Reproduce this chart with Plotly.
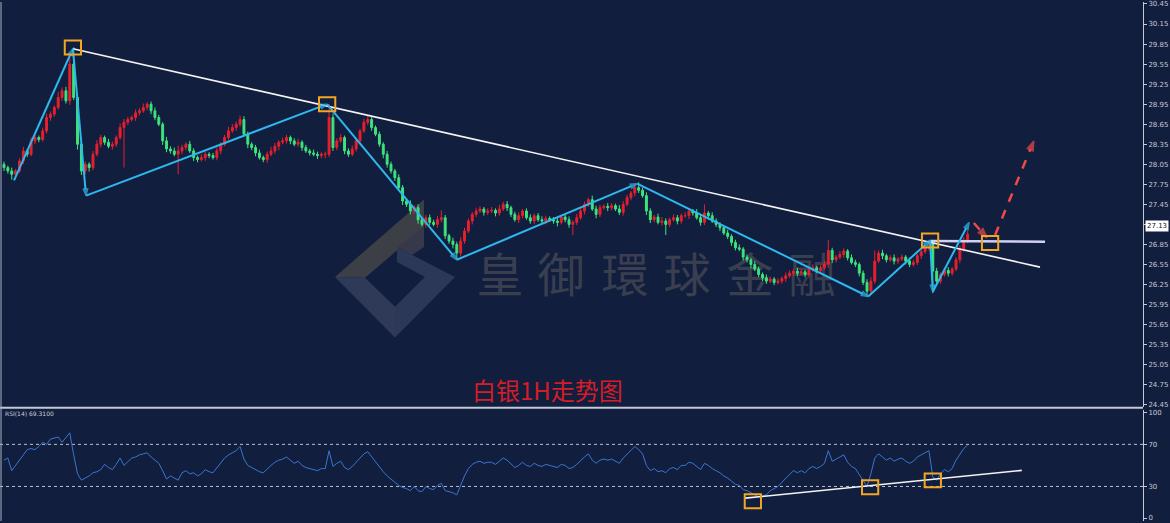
import base64
import plotly.graph_objects as go

# ---------------- data ----------------
first_open = 28.05
closes = [
    28.00, 27.95, 27.90, 27.95, 28.10, 28.25, 28.20, 28.40, 28.45, 28.42, 28.55, 28.75, 28.80, 28.90, 29.05, 29.15, 29.00, 29.55, 29.05, 28.35, 27.95, 28.05,
    28.00, 28.20, 28.35, 28.45, 28.38, 28.32, 28.35, 28.45, 28.60, 28.68, 28.72, 28.75, 28.82, 28.85, 28.90, 28.95, 28.85, 28.75, 28.65, 28.40, 28.28, 28.25,
    28.20, 28.25, 28.30, 28.35, 28.25, 28.15, 28.12, 28.15, 28.20, 28.18, 28.15, 28.25, 28.35, 28.45, 28.55, 28.60, 28.65, 28.72, 28.50, 28.35, 28.30,
    28.22, 28.15, 28.12, 28.20, 28.25, 28.32, 28.38, 28.40, 28.45, 28.40, 28.35, 28.38, 28.30, 28.25, 28.22, 28.20, 28.18, 28.20, 28.20, 28.75,
    28.30, 28.40, 28.45, 28.25, 28.20, 28.28, 28.40, 28.55, 28.68, 28.72, 28.60, 28.50, 28.35, 28.20, 28.05, 27.95, 27.85, 27.70,
    27.50, 27.45, 27.35, 27.40, 27.22, 27.15, 27.25, 27.18, 27.15, 27.22, 27.25, 26.98, 26.90, 26.85, 26.72, 26.90, 27.05, 27.20, 27.30, 27.35,
    27.38, 27.33, 27.35, 27.36, 27.32, 27.38, 27.45, 27.40, 27.30, 27.22, 27.28, 27.35,
    27.25, 27.20, 27.28, 27.22, 27.20, 27.24, 27.22, 27.20, 27.18, 27.26, 27.22, 27.15, 27.18, 27.25, 27.35, 27.45, 27.52, 27.38, 27.30, 27.40,
    27.42, 27.40, 27.43, 27.38, 27.33, 27.45, 27.55, 27.62, 27.70, 27.66, 27.58, 27.35, 27.22, 27.26, 27.18, 27.20, 27.15, 27.22, 27.25, 27.20, 27.28,
    27.28, 27.35, 27.32, 27.25, 27.18, 27.32, 27.28, 27.20, 27.15, 27.10, 27.02, 26.97, 26.88, 26.80, 26.78, 26.66, 26.62, 26.55, 26.48, 26.40,
    26.35, 26.30, 26.33, 26.28, 26.30, 26.34, 26.38, 26.42, 26.45, 26.42, 26.44, 26.40, 26.47, 26.50, 26.46, 26.50, 26.56, 26.76, 26.62, 26.66,
    26.70, 26.75, 26.65, 26.58, 26.55, 26.42, 26.28, 26.15, 26.30,
    26.60, 26.72, 26.68, 26.62, 26.65, 26.60, 26.63, 26.66, 26.60, 26.55, 26.58, 26.68, 26.74, 26.80, 26.86, 26.45, 26.30, 26.40, 26.46, 26.42,
    26.48, 26.62, 26.78, 26.90, 27.00,
]
upper_wick_cents = [
    4, 3, 5, 3, 4, 6, 3, 5, 4, 3, 5, 6, 4, 3, 8, 5, 6, 10, 25, 6, 5, 4, 3, 5, 6,
    4, 3, 5, 4, 3, 6, 5, 4, 3, 5, 4, 6, 3, 4, 5, 4, 3, 6, 4, 5, 8, 4, 3, 5, 4,
    3, 5, 4, 3, 4, 5, 3, 4, 6, 5, 4, 6, 5, 4, 3, 4, 5, 3, 4, 6, 5, 3, 5, 4, 3,
    4, 5, 3, 4, 3, 5, 4, 3, 4, 20, 6, 4, 5, 3, 4, 5, 4, 3, 5, 6, 4, 3, 4, 3, 5,
    4, 3, 5, 4, 3, 6, 4, 5, 3, 4, 5, 4, 6, 11, 4, 3, 5, 4, 6, 5, 4, 3, 5, 4, 3,
    4, 5, 3, 6, 4, 5, 3, 4, 5, 3, 4, 5, 3, 4, 5, 4, 3, 4, 5, 3, 4, 5, 3, 6, 5,
    4, 3, 6, 5, 4, 3, 5, 4, 3, 6, 5, 4, 3, 6, 8, 4, 5, 4, 3, 5, 6, 4, 3, 5, 4,
    3, 5, 4, 3, 6, 4, 13, 3, 5, 4, 3, 4, 5, 3, 4, 5, 3, 4, 3, 5, 4, 3, 5, 4, 3,
    4, 3, 5, 4, 3, 5, 4, 3, 4, 5, 3, 4, 5, 16, 4, 3, 5, 4, 3, 5, 4, 3, 4, 5, 6,
    16, 4, 5, 3, 4, 5, 3, 4, 3, 5, 4, 3, 5, 4, 6, 4, 5, 3, 4, 5, 3, 4, 5, 6, 6,
]
lower_wick_cents = [
    5, 4, 8, 4, 3, 5, 4, 3, 5, 4, 3, 4, 5, 4, 3, 5, 4, 6, 4, 8, 6, 5, 6, 4, 3,
    5, 4, 3, 5, 4, 3, 60, 4, 3, 5, 4, 3, 4, 5, 4, 3, 6, 5, 4, 3, 30, 5, 4, 3, 5,
    4, 3, 5, 4, 3, 4, 5, 3, 4, 3, 5, 4, 3, 6, 4, 5, 3, 4, 5, 3, 4, 6, 3, 4, 5,
    3, 4, 5, 3, 4, 3, 5, 4, 6, 4, 5, 4, 3, 5, 4, 3, 4, 5, 3, 4, 5, 3, 4, 6, 5,
    4, 5, 3, 6, 4, 5, 4, 6, 3, 5, 4, 3, 5, 4, 5, 4, 6, 10, 5, 4, 3, 5, 4, 3, 5,
    4, 3, 5, 4, 3, 5, 4, 3, 5, 4, 3, 4, 5, 3, 4, 5, 3, 4, 6, 3, 4, 5, 16, 4, 3,
    5, 4, 3, 6, 4, 3, 5, 4, 3, 4, 5, 3, 4, 5, 4, 3, 6, 5, 4, 3, 5, 16, 4, 3, 5,
    4, 3, 5, 4, 3, 5, 4, 6, 3, 4, 5, 3, 4, 5, 4, 3, 5, 4, 6, 3, 4, 5, 4, 3, 4,
    3, 4, 5, 3, 4, 5, 3, 4, 5, 3, 4, 5, 3, 6, 5, 4, 3, 5, 4, 3, 4, 5, 4, 8, 5,
    4, 3, 5, 4, 3, 5, 4, 3, 5, 4, 3, 4, 5, 3, 4, 33, 5, 4, 3, 5, 4, 3, 5, 4, 3,
]
rsi_values = [
    55, 57, 45, 50, 55, 60, 65, 66, 65, 68, 72, 70, 75, 76, 77, 72, 76, 81, 60, 42, 36, 38, 40, 43, 44,
    46, 51, 48, 46, 51, 57, 50, 54, 57, 58, 60, 61, 62, 58, 55, 52, 45, 37, 40, 38, 36, 43, 45, 42, 43,
    40, 42, 46, 44, 43, 48, 53, 57, 60, 62, 64, 68, 56, 50, 48, 46, 44, 43, 47, 50, 53, 55, 56, 58, 55,
    52, 54, 50, 48, 47, 46, 45, 47, 47, 64, 49, 52, 54, 48, 46, 49, 53, 57, 61, 63, 58, 54, 49, 44, 40,
    37, 34, 31, 29, 28, 26, 30, 26, 25, 30, 28, 27, 31, 33, 26, 25, 24, 22, 32, 40, 47, 51, 53, 54, 52,
    53, 53, 51, 54, 57, 55, 51, 48, 50, 53, 50, 49, 52, 50, 49, 51, 50, 49, 48, 51, 50, 47, 48, 51, 55,
    58, 61, 55, 52, 55, 56, 55, 56, 54, 52, 57, 61, 64, 68, 65, 61, 50, 45, 47, 44, 45, 43, 47, 48, 46,
    50, 50, 53, 52, 49, 46, 52, 50, 47, 45, 43, 40, 38, 35, 32, 31, 27, 26, 24, 22, 20, 21, 22, 26, 28,
    30, 34, 38, 42, 45, 43, 45, 43, 47, 49, 47, 49, 52, 64, 54, 56, 58, 60, 53, 49, 47, 41, 35, 30, 42,
    57, 61, 58, 55, 57, 54, 56, 57, 54, 52, 54, 58, 60, 62, 64, 39, 36, 42, 46, 44, 47, 55, 61, 66, 69.31,
]
last_price = 27.13
rsi_label = "RSI(14) 69.3100"
chart_title = "白银1H走势图"
watermark_text = "皇御環球金融"

price_ticks = [24.45, 24.75, 25.05, 25.35, 25.65, 25.95, 26.25, 26.55, 26.85, 27.15, 27.45,
               27.75, 28.05, 28.35, 28.65, 28.95, 29.25, 29.55, 29.85, 30.15, 30.45]
rsi_ticks = [0, 30, 70, 100]
rsi_levels = [30, 70]

# analysis drawings (bar index, price)
zigzag_idx = [2.6, 17.8, 21.2, 83.5, 117.0, 163.6, 223.3, 239.3, 240.0, 249.4]
zigzag_px = [27.81, 29.78, 27.58, 28.95, 26.62, 27.76, 26.07, 26.91, 26.14, 27.18]
trend_idx = [17.8, 267.7]
trend_px = [29.78, 26.51]
hline_idx = [239.3, 269.0]
hline_px = [26.90, 26.89]
box_idx = [17.8, 83.5, 239.3, 254.8]
box_px = [29.80, 28.95, 26.91, 26.87]
arrow1_idx = [250.6, 254.0]
arrow1_px = [27.17, 26.95]
arrow2_idx = [256.1, 266.1]
arrow2_px = [26.99, 28.40]
rsi_trend_idx = [191.5, 263.0]
rsi_trend_val = [18.9, 45.3]
rsi_box_idx = [193.5, 223.8, 240.0]
rsi_box_val = [16.0, 29.2, 35.8]

assert len(closes) == len(upper_wick_cents) == len(lower_wick_cents) == len(rsi_values), (
    len(closes), len(upper_wick_cents), len(lower_wick_cents), len(rsi_values))

# ---------------- derived ----------------
n = len(closes)
bars = list(range(n))
opens = [first_open] + closes[:-1]
highs = [max(o, c) + u / 100 for o, c, u in zip(opens, closes, upper_wick_cents)]
lows = [min(o, c) - d / 100 for o, c, d in zip(opens, closes, lower_wick_cents)]

BG = "#121e3e"
AX = "#c5cad6"
UP = "#e8202e"
DOWN = "#3de57c"
ZZ = "#2db8ee"
ORANGE = "#f2a623"
REDARROW = "#f04a4a"

fig = go.Figure()

fig.add_trace(go.Candlestick(
    x=bars, open=opens, high=highs, low=lows, close=closes,
    increasing=dict(line=dict(color=UP, width=1), fillcolor=UP),
    decreasing=dict(line=dict(color=DOWN, width=1), fillcolor=DOWN),
    whiskerwidth=0, xaxis="x", yaxis="y", showlegend=False, hoverinfo="skip",
))

fig.add_trace(go.Scatter(
    x=trend_idx, y=trend_px, mode="lines", line=dict(color="#f4f4f4", width=1.6),
    xaxis="x", yaxis="y", showlegend=False, hoverinfo="skip"))
fig.add_trace(go.Scatter(
    x=hline_idx, y=hline_px, mode="lines", line=dict(color="#cfd0f2", width=2.5),
    xaxis="x", yaxis="y", showlegend=False, hoverinfo="skip"))

fig.add_trace(go.Scatter(
    x=zigzag_idx, y=zigzag_px, mode="lines+markers",
    line=dict(color=ZZ, width=2),
    marker=dict(symbol="arrow", angleref="previous", color=ZZ, line=dict(width=1.5, color=ZZ),
                size=[0] + [7] * (len(zigzag_idx) - 1)),
    xaxis="x", yaxis="y", showlegend=False, hoverinfo="skip"))

for ax_idx, ax_px in [(arrow1_idx, arrow1_px), (arrow2_idx, arrow2_px)]:
    fig.add_trace(go.Scatter(
        x=ax_idx, y=ax_px, mode="lines+markers",
        line=dict(color=REDARROW, width=2.5, dash="dash"),
        marker=dict(symbol="arrow", angleref="previous", color=REDARROW,
                    line=dict(width=1.5, color=REDARROW), size=[0, 10]),
        xaxis="x", yaxis="y", showlegend=False, hoverinfo="skip"))

# RSI panel
fig.add_trace(go.Scatter(
    x=bars, y=rsi_values, mode="lines", line=dict(color="#3b75d2", width=1),
    xaxis="x2", yaxis="y2", showlegend=False, hoverinfo="skip"))
fig.add_trace(go.Scatter(
    x=rsi_trend_idx, y=rsi_trend_val, mode="lines", line=dict(color="#f4f4f4", width=1.6),
    xaxis="x2", yaxis="y2", showlegend=False, hoverinfo="skip"))

shapes = []
for bi, bp in zip(box_idx, box_px):
    shapes.append(dict(type="rect", xref="x", yref="y", x0=bi - 2.1, x1=bi + 2.1,
                       y0=bp - 0.105, y1=bp + 0.105, line=dict(color=ORANGE, width=2)))
for bi, bv in zip(rsi_box_idx, rsi_box_val):
    shapes.append(dict(type="rect", xref="x2", yref="y2", x0=bi - 2.1, x1=bi + 2.1,
                       y0=bv - 6.6, y1=bv + 6.6, line=dict(color=ORANGE, width=2)))
for lv in rsi_levels:
    shapes.append(dict(type="line", xref="paper", yref="y2", x0=0, x1=1, y0=lv, y1=lv,
                       line=dict(color="#b9c0cf", width=1, dash="dot"), layer="below"))
# panel separator and left border
shapes.append(dict(type="line", xref="paper", yref="paper", x0=0, x1=1,
                   y0=(523 - 409) / 523, y1=(523 - 409) / 523, line=dict(color="#c3c9d6", width=2)))
shapes.append(dict(type="line", xref="paper", yref="paper", x0=0.0009, x1=0.0009, y0=0, y1=1,
                   line=dict(color="#aab2c2", width=1)))

# watermark as an svg image below the data
W, H = 1143, 523
svg = f'''<svg xmlns="http://www.w3.org/2000/svg" width="{W}" height="{H}" viewBox="0 0 {W} {H}">
<polygon points="335,277 424,199 424,227 365,278" fill="#3d3f47"/>
<polygon points="335,277 395,338 395,307 365,278" fill="#2f3a58"/>
<polygon points="397,247 455,277 395,338 395,307 425,277 397,262" fill="#2c3857"/>
<polygon points="397,247 424,227 424,247 412,255" fill="#35394a"/>
'''
xs = [500, 561, 625, 687, 750, 812]
for ch, cx in zip(watermark_text, xs):
    svg += (f'<text x="{cx}" y="292" text-anchor="middle" font-family="Noto Sans CJK TC" '
            f'font-size="47" fill="#3a3f4f">{ch}</text>\n')
svg += '</svg>'
src = "data:image/svg+xml;base64," + base64.b64encode(svg.encode("utf-8")).decode("ascii")

annotations = [
    dict(text=chart_title, xref="paper", yref="paper", x=547 / W, y=(523 - 390) / 523,
         showarrow=False, font=dict(family="Noto Sans CJK SC", size=24, color="#d41d26"),
         xanchor="center", yanchor="middle"),
    dict(text=rsi_label, xref="paper", yref="paper", x=0.003, y=(523 - 415) / 523,
         showarrow=False, font=dict(family="DejaVu Sans", size=6, color="#c8ccd8"),
         xanchor="left", yanchor="middle"),
    dict(text=f"{last_price:.2f}", xref="paper", yref="y", x=1 + 2 / W, y=last_price,
         showarrow=False, font=dict(family="DejaVu Sans", size=7, color="#111111"),
         xanchor="left", yanchor="middle", bgcolor="#ffffff", borderpad=1),
]

x_left = -4 / 3.87
x_right = (1143 - 4) / 3.87
axis_font = dict(family="DejaVu Sans", size=7, color=AX)

fig.update_layout(
    width=1170, height=523,
    margin=dict(l=0, r=27, t=0, b=0),
    paper_bgcolor=BG, plot_bgcolor=BG,
    showlegend=False,
    xaxis=dict(domain=[0, 1], range=[x_left, x_right], showticklabels=False, showgrid=False,
               zeroline=False, ticks="", anchor="y", rangeslider=dict(visible=False), fixedrange=True),
    xaxis2=dict(domain=[0, 1], range=[x_left, x_right], showticklabels=False, showgrid=False,
                zeroline=False, ticks="", anchor="y2", matches="x"),
    yaxis=dict(domain=[(523 - 408) / 523, 1], range=[24.4173, 30.4797], side="right",
               tickvals=price_ticks, ticktext=[f"{v:.2f}" for v in price_ticks],
               ticklabeloverflow="allow",
               showgrid=False, zeroline=False, showline=True, linecolor=AX, linewidth=1,
               ticks="outside", ticklen=3, tickcolor=AX, tickfont=axis_font, anchor="x"),
    yaxis2=dict(domain=[0, (523 - 411) / 523], range=[-2.83, 102.8], side="right",
                tickvals=rsi_ticks, ticktext=[str(v) for v in rsi_ticks],
                ticklabeloverflow="allow",
                showgrid=False, zeroline=False, showline=True, linecolor=AX, linewidth=1,
                ticks="outside", ticklen=3, tickcolor=AX, tickfont=axis_font, anchor="x2"),
    shapes=shapes,
    annotations=annotations,
    images=[dict(source=src, xref="paper", yref="paper", x=0, y=1, sizex=1, sizey=1,
                 sizing="stretch", xanchor="left", yanchor="top", layer="below")],
)

fig.write_html("out.html")
